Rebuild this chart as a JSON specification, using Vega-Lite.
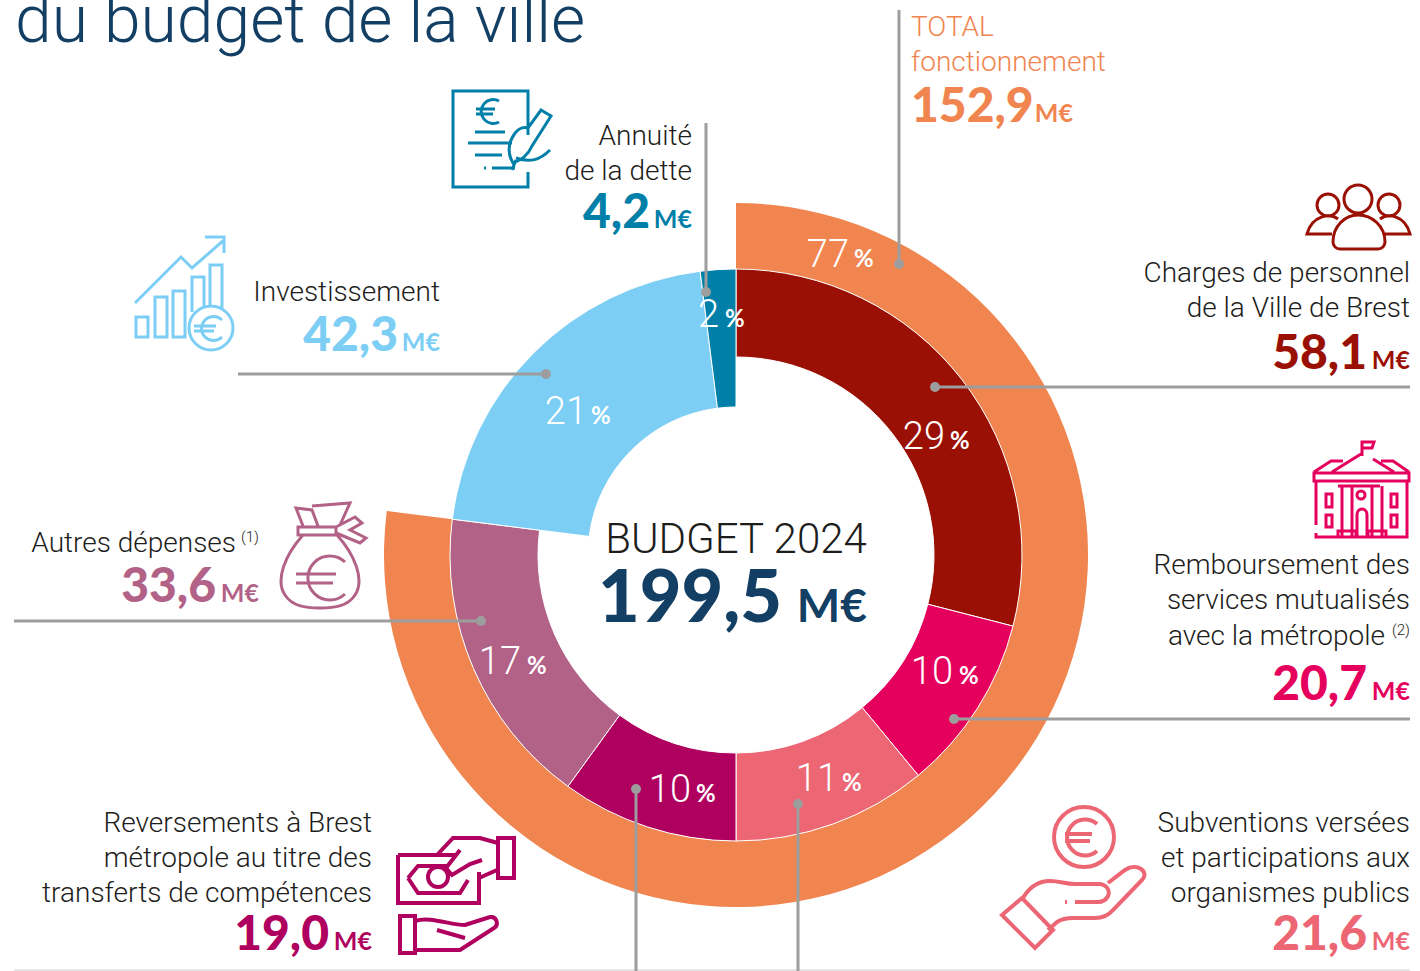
{"$schema":"https://vega.github.io/schema/vega-lite/v6.json","width":1420,"height":971,"autosize":"none","padding":0,"background":"white",
"config":{"view":{"stroke":null},"axis":{"disable":true},"legend":{"disable":true},"text":{"font":"Roboto","fontWeight":300,"fontSize":28,"lineHeight":35,"baseline":"alphabetic","color":"#1d1d1b"}},
"datasets":{"budget":[
{"poste":"Charges","libelle":["Charges de personnel","de la Ville de Brest"],"montant":58.1,"montant_txt":"58,1","part":29,"ordre":1},
{"poste":"Remboursement","libelle":["Remboursement des","services mutualisés"],"libelle_suite":"avec la métropole","montant":20.7,"montant_txt":"20,7","part":10,"ordre":2},
{"poste":"Subventions","libelle":["Subventions versées","et participations aux","organismes publics"],"montant":21.6,"montant_txt":"21,6","part":11,"ordre":3},
{"poste":"Reversements","libelle":["Reversements à Brest","métropole au titre des","transferts de compétences"],"montant":19.0,"montant_txt":"19,0","part":10,"ordre":4},
{"poste":"Autres","libelle":["Autres dépenses"],"montant":33.6,"montant_txt":"33,6","part":17,"ordre":5},
{"poste":"Investissement","libelle":["Investissement"],"montant":42.3,"montant_txt":"42,3","part":21,"ordre":6},
{"poste":"Annuite","libelle":["Annuité","de la dette"],"montant":4.2,"montant_txt":"4,2","part":2,"ordre":7}],
"total":[{"poste":"Total","libelle":["TOTAL","fonctionnement"],"montant":152.9,"montant_txt":"152,9","part":77,"ordre":1}],
"annotation":[{"role":"annotation"}]},
"data":{"name":"annotation"},
"layer":[
{"data":{"name":"total"},"mark":{"type":"arc","radius":352,"radius2":286,"color":"#F08550"},"encoding":{"x":{"datum":736,"scale":{"domain":[0,1420],"range":[0,1420],"nice":false,"zero":false}},"y":{"datum":555,"scale":{"domain":[0,971],"range":[0,971],"nice":false,"zero":false}},"theta":{"field":"part","type":"quantitative","stack":true,"scale":{"domain":[0,100]}},"order":{"field":"ordre"}}},
{"data":{"name":"budget"},"transform":[{"stack":"part","sort":[{"field":"ordre"}],"as":["debut","fin"]}],"encoding":{"x":{"datum":736},"y":{"datum":555},"theta":{"field":"fin","type":"quantitative","stack":null,"scale":{"domain":[0,100]}},"theta2":{"field":"debut"},"color":{"field":"poste","type":"nominal","scale":{"domain":["Charges","Remboursement","Subventions","Reversements","Autres","Investissement","Annuite"],"range":["#9B1004","#E5005E","#EC6674","#B0005F","#B26287","#7DCEF5","#007FA8"]}}},"layer":[
{"transform":[{"filter":"datum.ordre<6"}],"mark":{"type":"arc","radius":286,"radius2":198,"stroke":"white","strokeWidth":1}},
{"transform":[{"filter":"datum.ordre>=6"}],"mark":{"type":"arc","radius":286,"radius2":148,"stroke":"white","strokeWidth":1}}]},
{"mark":{"type":"rule","color":"#e6e6e6","strokeWidth":2},"encoding":{"x":{"datum":14},"x2":{"datum":1410},"y":{"datum":970}}},
{"mark":{"type":"rule","color":"#9d9d9d","strokeWidth":3},"encoding":{"x":{"datum":899},"y":{"datum":10},"y2":{"datum":264}}},
{"mark":{"type":"rule","color":"#9d9d9d","strokeWidth":3},"encoding":{"x":{"datum":706},"y":{"datum":123},"y2":{"datum":292}}},
{"mark":{"type":"rule","color":"#9d9d9d","strokeWidth":3},"encoding":{"x":{"datum":935},"x2":{"datum":1410},"y":{"datum":387}}},
{"mark":{"type":"rule","color":"#9d9d9d","strokeWidth":3},"encoding":{"x":{"datum":238},"x2":{"datum":546},"y":{"datum":374}}},
{"mark":{"type":"rule","color":"#9d9d9d","strokeWidth":3},"encoding":{"x":{"datum":954},"x2":{"datum":1410},"y":{"datum":719}}},
{"mark":{"type":"rule","color":"#9d9d9d","strokeWidth":3},"encoding":{"x":{"datum":14},"x2":{"datum":481},"y":{"datum":621}}},
{"mark":{"type":"rule","color":"#9d9d9d","strokeWidth":3},"encoding":{"x":{"datum":636},"y":{"datum":789},"y2":{"datum":971}}},
{"mark":{"type":"rule","color":"#9d9d9d","strokeWidth":3},"encoding":{"x":{"datum":798},"y":{"datum":804},"y2":{"datum":971}}},
{"mark":{"type":"point","filled":true,"color":"#9d9d9d","size":100,"opacity":1},"encoding":{"x":{"datum":899},"y":{"datum":264}}},
{"mark":{"type":"point","filled":true,"color":"#9d9d9d","size":100,"opacity":1},"encoding":{"x":{"datum":706},"y":{"datum":292}}},
{"mark":{"type":"point","filled":true,"color":"#9d9d9d","size":100,"opacity":1},"encoding":{"x":{"datum":935},"y":{"datum":387}}},
{"mark":{"type":"point","filled":true,"color":"#9d9d9d","size":100,"opacity":1},"encoding":{"x":{"datum":546},"y":{"datum":374}}},
{"mark":{"type":"point","filled":true,"color":"#9d9d9d","size":100,"opacity":1},"encoding":{"x":{"datum":954},"y":{"datum":719}}},
{"mark":{"type":"point","filled":true,"color":"#9d9d9d","size":100,"opacity":1},"encoding":{"x":{"datum":481},"y":{"datum":621}}},
{"mark":{"type":"point","filled":true,"color":"#9d9d9d","size":100,"opacity":1},"encoding":{"x":{"datum":636},"y":{"datum":789}}},
{"mark":{"type":"point","filled":true,"color":"#9d9d9d","size":100,"opacity":1},"encoding":{"x":{"datum":798},"y":{"datum":804}}},
{"mark":{"type":"text","text":"du budget de la ville","align":"left","fontSize":66,"color":"#123F63"},"encoding":{"x":{"datum":15},"y":{"datum":42}}},
{"mark":{"type":"text","text":"BUDGET 2024","align":"center","fontSize":42,"color":"#1d1d1b"},"encoding":{"x":{"datum":736},"y":{"datum":553}}},
{"mark":{"type":"text","text":"199,5","align":"right","font":"Lato","fontSize":72,"fontWeight":900,"color":"#123F63"},"encoding":{"x":{"datum":782},"y":{"datum":622}}},
{"mark":{"type":"text","text":"M€","align":"right","font":"Lato","fontSize":46,"fontWeight":700,"color":"#123F63"},"encoding":{"x":{"datum":867},"y":{"datum":622}}},
{"data":{"name":"total"},"layer":[
{"mark":{"type":"text","align":"left","color":"#F08550"},"encoding":{"x":{"datum":911},"y":{"datum":36},"text":{"field":"libelle"}}},
{"mark":{"type":"text","align":"left","font":"Lato","fontSize":48,"fontWeight":900,"color":"#F08550"},"encoding":{"x":{"datum":911},"y":{"datum":122},"text":{"field":"montant_txt"}}},
{"mark":{"type":"text","text":"M€","align":"right","font":"Lato","fontSize":25,"fontWeight":700,"color":"#F08550"},"encoding":{"x":{"datum":1073},"y":{"datum":122}}},
{"mark":{"type":"text","align":"right","fontSize":38,"color":"white"},"encoding":{"x":{"datum":849},"y":{"datum":267},"text":{"field":"part","type":"nominal"}}},
{"mark":{"type":"text","text":"%","align":"left","font":"Lato","fontSize":24,"fontWeight":700,"color":"white"},"encoding":{"x":{"datum":854},"y":{"datum":267}}}]},
{"data":{"name":"budget"},"transform":[{"filter":"datum.poste==='Charges'"}],"layer":[
{"mark":{"type":"text","align":"right"},"encoding":{"x":{"datum":1410},"y":{"datum":282},"text":{"field":"libelle"}}},
{"mark":{"type":"text","align":"right","font":"Lato","fontSize":48,"fontWeight":900,"color":"#9B1004"},"encoding":{"x":{"datum":1367},"y":{"datum":369},"text":{"field":"montant_txt"}}},
{"mark":{"type":"text","text":"M€","align":"right","font":"Lato","fontSize":25,"fontWeight":700,"color":"#9B1004"},"encoding":{"x":{"datum":1410},"y":{"datum":369}}},
{"mark":{"type":"text","align":"right","fontSize":38,"color":"white"},"encoding":{"x":{"datum":945},"y":{"datum":449},"text":{"field":"part","type":"nominal"}}},
{"mark":{"type":"text","text":"%","align":"left","font":"Lato","fontSize":24,"fontWeight":700,"color":"white"},"encoding":{"x":{"datum":950},"y":{"datum":449}}}]},
{"data":{"name":"budget"},"transform":[{"filter":"datum.poste==='Remboursement'"}],"layer":[
{"mark":{"type":"text","align":"right"},"encoding":{"x":{"datum":1410},"y":{"datum":574},"text":{"field":"libelle"}}},
{"mark":{"type":"text","align":"right"},"encoding":{"x":{"datum":1385},"y":{"datum":645},"text":{"field":"libelle_suite"}}},
{"mark":{"type":"text","align":"right","font":"Lato","fontSize":48,"fontWeight":900,"color":"#E5005E"},"encoding":{"x":{"datum":1367},"y":{"datum":700},"text":{"field":"montant_txt"}}},
{"mark":{"type":"text","text":"M€","align":"right","font":"Lato","fontSize":25,"fontWeight":700,"color":"#E5005E"},"encoding":{"x":{"datum":1410},"y":{"datum":700}}},
{"mark":{"type":"text","align":"right","fontSize":38,"color":"white"},"encoding":{"x":{"datum":953},"y":{"datum":684},"text":{"field":"part","type":"nominal"}}},
{"mark":{"type":"text","text":"%","align":"left","font":"Lato","fontSize":24,"fontWeight":700,"color":"white"},"encoding":{"x":{"datum":959},"y":{"datum":684}}}]},
{"data":{"name":"budget"},"transform":[{"filter":"datum.poste==='Subventions'"}],"layer":[
{"mark":{"type":"text","align":"right"},"encoding":{"x":{"datum":1410},"y":{"datum":832},"text":{"field":"libelle"}}},
{"mark":{"type":"text","align":"right","font":"Lato","fontSize":48,"fontWeight":900,"color":"#EC6674"},"encoding":{"x":{"datum":1367},"y":{"datum":950},"text":{"field":"montant_txt"}}},
{"mark":{"type":"text","text":"M€","align":"right","font":"Lato","fontSize":25,"fontWeight":700,"color":"#EC6674"},"encoding":{"x":{"datum":1410},"y":{"datum":950}}},
{"mark":{"type":"text","align":"right","fontSize":38,"color":"white"},"encoding":{"x":{"datum":838},"y":{"datum":791},"text":{"field":"part","type":"nominal"}}},
{"mark":{"type":"text","text":"%","align":"left","font":"Lato","fontSize":24,"fontWeight":700,"color":"white"},"encoding":{"x":{"datum":842},"y":{"datum":791}}}]},
{"data":{"name":"budget"},"transform":[{"filter":"datum.poste==='Reversements'"}],"layer":[
{"mark":{"type":"text","align":"right"},"encoding":{"x":{"datum":372},"y":{"datum":832},"text":{"field":"libelle"}}},
{"mark":{"type":"text","align":"right","font":"Lato","fontSize":48,"fontWeight":900,"color":"#B0005F"},"encoding":{"x":{"datum":329},"y":{"datum":950},"text":{"field":"montant_txt"}}},
{"mark":{"type":"text","text":"M€","align":"right","font":"Lato","fontSize":25,"fontWeight":700,"color":"#B0005F"},"encoding":{"x":{"datum":372},"y":{"datum":950}}},
{"mark":{"type":"text","align":"right","fontSize":38,"color":"white"},"encoding":{"x":{"datum":691},"y":{"datum":802},"text":{"field":"part","type":"nominal"}}},
{"mark":{"type":"text","text":"%","align":"left","font":"Lato","fontSize":24,"fontWeight":700,"color":"white"},"encoding":{"x":{"datum":696},"y":{"datum":802}}}]},
{"data":{"name":"budget"},"transform":[{"filter":"datum.poste==='Autres'"}],"layer":[
{"mark":{"type":"text","align":"right"},"encoding":{"x":{"datum":236},"y":{"datum":552},"text":{"field":"libelle"}}},
{"mark":{"type":"text","align":"right","font":"Lato","fontSize":48,"fontWeight":900,"color":"#B26287"},"encoding":{"x":{"datum":216},"y":{"datum":602},"text":{"field":"montant_txt"}}},
{"mark":{"type":"text","text":"M€","align":"right","font":"Lato","fontSize":25,"fontWeight":700,"color":"#B26287"},"encoding":{"x":{"datum":259},"y":{"datum":602}}},
{"mark":{"type":"text","align":"right","fontSize":38,"color":"white"},"encoding":{"x":{"datum":521},"y":{"datum":674},"text":{"field":"part","type":"nominal"}}},
{"mark":{"type":"text","text":"%","align":"left","font":"Lato","fontSize":24,"fontWeight":700,"color":"white"},"encoding":{"x":{"datum":527},"y":{"datum":674}}}]},
{"data":{"name":"budget"},"transform":[{"filter":"datum.poste==='Investissement'"}],"layer":[
{"mark":{"type":"text","align":"right"},"encoding":{"x":{"datum":440},"y":{"datum":301},"text":{"field":"libelle"}}},
{"mark":{"type":"text","align":"right","font":"Lato","fontSize":48,"fontWeight":900,"color":"#7DCEF5"},"encoding":{"x":{"datum":398},"y":{"datum":351},"text":{"field":"montant_txt"}}},
{"mark":{"type":"text","text":"M€","align":"right","font":"Lato","fontSize":25,"fontWeight":700,"color":"#7DCEF5"},"encoding":{"x":{"datum":440},"y":{"datum":351}}},
{"mark":{"type":"text","align":"right","fontSize":38,"color":"white"},"encoding":{"x":{"datum":587},"y":{"datum":424},"text":{"field":"part","type":"nominal"}}},
{"mark":{"type":"text","text":"%","align":"left","font":"Lato","fontSize":24,"fontWeight":700,"color":"white"},"encoding":{"x":{"datum":591},"y":{"datum":424}}}]},
{"data":{"name":"budget"},"transform":[{"filter":"datum.poste==='Annuite'"}],"layer":[
{"mark":{"type":"text","align":"right"},"encoding":{"x":{"datum":692},"y":{"datum":145},"text":{"field":"libelle"}}},
{"mark":{"type":"text","align":"right","font":"Lato","fontSize":48,"fontWeight":900,"color":"#007FA8"},"encoding":{"x":{"datum":650},"y":{"datum":228},"text":{"field":"montant_txt"}}},
{"mark":{"type":"text","text":"M€","align":"right","font":"Lato","fontSize":25,"fontWeight":700,"color":"#007FA8"},"encoding":{"x":{"datum":692},"y":{"datum":228}}},
{"mark":{"type":"text","align":"right","fontSize":38,"color":"white"},"encoding":{"x":{"datum":719},"y":{"datum":327},"text":{"field":"part","type":"nominal"}}},
{"mark":{"type":"text","text":"%","align":"left","font":"Lato","fontSize":24,"fontWeight":700,"color":"white"},"encoding":{"x":{"datum":725},"y":{"datum":327}}}]},
{"mark":{"type":"text","text":"(1)","align":"right","fontSize":15},"encoding":{"x":{"datum":259},"y":{"datum":542}}},
{"mark":{"type":"text","text":"(2)","align":"right","fontSize":15},"encoding":{"x":{"datum":1410},"y":{"datum":635}}},
{"mark":{"type":"point","size":4,"opacity":1,"filled":false,"strokeWidth":3,"color":"#9B1004","shape":"M1372 199a14 14 0 1 0 -28 0a14 14 0 1 0 28 0M1339 205a11 11 0 1 0 -22 0a11 11 0 1 0 22 0M1400 205a11 11 0 1 0 -22 0a11 11 0 1 0 22 0M1340 249a7 7 0 0 1 -7 -7C1333 226 1345 215 1358 215C1372 215 1385 226 1385 242a7 7 0 0 1 -7 7ZM1338 219C1330 213 1312 215 1307 234H1332M1380 219C1388 213 1405 215 1410 234H1385"},"encoding":{"x":{"datum":0},"y":{"datum":0}}},
{"mark":{"type":"point","size":4,"opacity":1,"filled":false,"strokeWidth":3,"color":"#E5005E","shape":"M1362 456V442H1374L1372 448H1362M1361 454L1332 472M1373 459L1394 472M1314 472L1331 461H1343M1409 472L1393 461H1381M1314 473H1409V481H1314ZM1316 481V525M1316 533V537H1407V481M1338 486H1380M1342 486V537M1352 486V537M1372 486V537M1382 486V537M1338 537V531H1356V537M1368 537V531H1386V537M1365 495a4 4 0 1 0 -8 0a4 4 0 1 0 8 0M1326 494H1332V507H1326ZM1326 515H1332V527H1326ZM1391 494H1397V507H1391ZM1391 515H1397V527H1391ZM1357 537V515C1357 507 1367 507 1367 515V537"},"encoding":{"x":{"datum":0},"y":{"datum":0}}},
{"mark":{"type":"point","size":4,"opacity":1,"filled":false,"strokeWidth":3,"color":"#B26287","shape":"M303 535C285 555 275 580 285 595C292 606 305 608 320 608C335 608 348 606 355 595C365 580 355 555 337 535M298 527H336V535H298ZM303 526L296 508L312 510L318 526M312 506L350 503L340 525M336 527L355 517L362 523L350 530L366 538L360 543L336 533M345 562A22 22 0 1 0 345 594M296 574H336M296 583H333"},"encoding":{"x":{"datum":0},"y":{"datum":0}}},
{"mark":{"type":"point","size":4,"opacity":1,"filled":false,"strokeWidth":3,"color":"#7DCEF5","shape":"M136 317H148V337H136ZM155 297H167V337H155ZM173 291H185V337H173ZM192 312V277H204V307M210 307V265H222V310M135 303L181 257L192 268L224 240M205 237H224V253M233 328a22 22 0 1 0 -44 0a22 22 0 1 0 44 0M222 320A12 12 0 1 0 222 337M194 326H216M194 331H214"},"encoding":{"x":{"datum":0},"y":{"datum":0}}},
{"mark":{"type":"point","size":4,"opacity":1,"filled":false,"strokeWidth":3,"color":"#007FA8","shape":"M528 135V91H453V187H528V172M499 101A12 12 0 1 0 499 122M476 109H495M476 114H493M475 132H505M468 143H512M475 155H502M484 168H486M492 168H515M541 110L551 116L532 146C528 155 522 160 513 163C508 155 508 145 512 138C516 130 522 126 528 128ZM512 170L516 160M516 158C530 163 540 160 550 150"},"encoding":{"x":{"datum":0},"y":{"datum":0}}},
{"mark":{"type":"point","size":4,"opacity":1,"filled":false,"strokeWidth":4,"color":"#B0005F","shape":"M498 838H514V878H498ZM498 843L480 838H453L437 855M497 870L479 878M398 855H455M479 872V903H398V855M460 850L446 868L452 875L470 864L482 860M408 878L418 866H448M408 878L418 893H460L468 880M448 877a10 10 0 1 0 -20 0a10 10 0 1 0 20 0M400 916H415V953H400ZM415 921C430 916 450 925 465 925L490 917C497 916 499 925 494 928L460 950H415M437 930L465 938"},"encoding":{"x":{"datum":0},"y":{"datum":0}}},
{"mark":{"type":"point","size":4,"opacity":1,"filled":false,"strokeWidth":4,"color":"#EC6674","shape":"M1114 837a30 30 0 1 0 -60 0a30 30 0 1 0 60 0M1097 824A18 18 0 1 0 1097 851M1065 834H1092M1065 841H1090M1002 915L1022 898L1053 930L1035 948ZM1023 898C1030 886 1040 881 1050 881C1060 881 1065 884 1075 884H1100C1108 885 1110 892 1108 896C1106 900 1103 902 1098 902H1075M1065 902H1067M1108 883L1125 870C1137 862 1150 872 1142 880L1113 910C1108 916 1103 918 1095 918H1073C1065 918 1060 920 1057 922L1048 930"},"encoding":{"x":{"datum":0},"y":{"datum":0}}}
]}
